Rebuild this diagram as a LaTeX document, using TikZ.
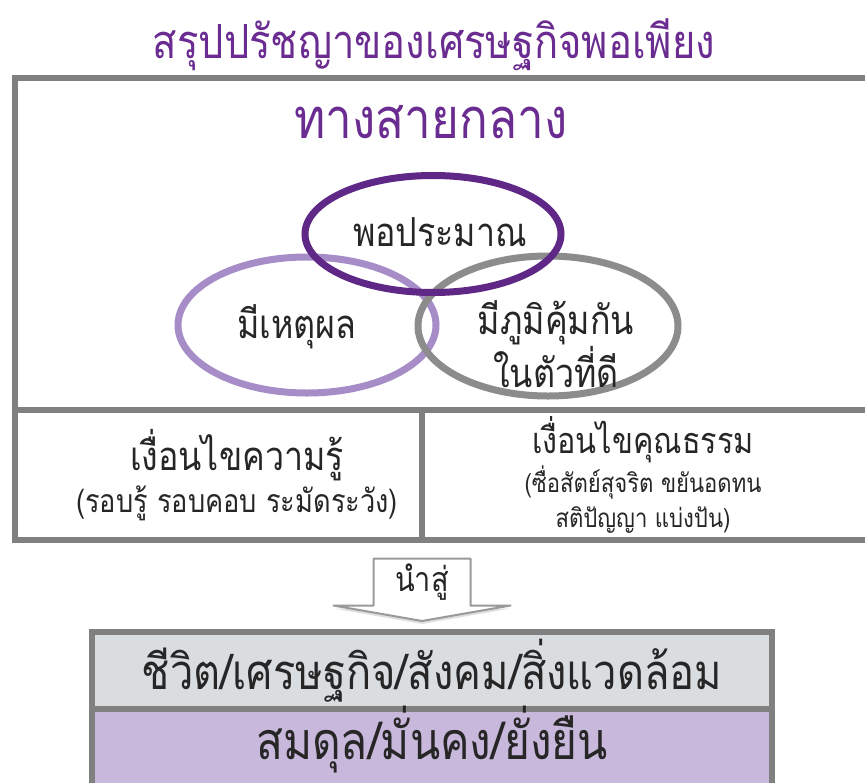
\documentclass[tikz,border=0pt]{standalone}
\usepackage{fontspec}
\newfontfamily\thaifont[Script=Thai,FakeStretch=0.85]{Loma}
\usepackage{tikz}
\usetikzlibrary{positioning, shapes, shadows, backgrounds}
\definecolor{headpurple}{RGB}{107,44,145}
\definecolor{ringpurple}{RGB}{96,40,134}
\definecolor{ringlilac}{RGB}{166,141,200}
\definecolor{ringgray}{RGB}{140,140,140}
\definecolor{framegray}{RGB}{128,128,128}
\definecolor{inkgray}{RGB}{38,38,38}
\definecolor{bandgray}{RGB}{218,221,224}
\definecolor{bandlilac}{RGB}{200,184,219}
\tikzstyle{headtext} = [text=headpurple, font=\thaifont\fontsize{47}{50}\selectfont]
\tikzstyle{ring} = [ellipse, line width=7pt, inner sep=0pt, outer sep=0pt]
\tikzstyle{ringtext} = [text=inkgray, align=center, font=\thaifont\fontsize{40}{40}\selectfont]
\tikzstyle{cell} = [rectangle, draw=framegray, line width=6pt, fill=white, inner sep=0pt, outer sep=0pt]
\tikzstyle{cellhead} = [text=inkgray, font=\thaifont\fontsize{40}{44}\selectfont]
\tikzstyle{cellnote} = [text=inkgray, align=center, font=\thaifont\fontsize{32}{35}\selectfont]
\tikzstyle{band} = [rectangle, draw=framegray, line width=6pt, inner sep=0pt, outer sep=0pt, minimum width=680pt, text=inkgray, font=\thaifont\fontsize{49}{52}\selectfont]
\tikzstyle{leadbox} = [rectangle, inner sep=0pt, outer sep=0pt, minimum width=97pt, minimum height=47pt, text=inkgray, font=\thaifont\fontsize{34}{38}\selectfont]
\tikzstyle{arrowline} = [draw=framegray!80, line width=2pt, fill=white, line join=round]
\tikzstyle{softshadow} = [drop shadow={opacity=0.25, shadow xshift=0pt, shadow yshift=-3pt}]

\begin{document}
\begin{tikzpicture}[x=1pt, y=-1pt, node distance=40pt]
        \useasboundingbox (0,0) rectangle (865,782);
        \node (title) [headtext] at (434,45) {สรุปปรัชญาของเศรษฐกิจพอเพียง};

        % frame with the middle way and the two conditions
        \node (upper) [cell, softshadow, minimum width=855pt, minimum height=332pt, anchor=north west] at (15,78) {};
        \node (knowcell) [cell, softshadow, minimum width=407pt, minimum height=130pt, anchor=north west] at (upper.south west) {};
        \node (moralcell) [cell, softshadow, minimum width=448pt, minimum height=130pt, anchor=north west] at (knowcell.north east) {};
        \node (middle) [headtext, font=\thaifont\fontsize{56}{60}\selectfont] at (431,122) {ทางสายกลาง};

        \node (reason) [ring, draw=ringlilac, minimum width=258pt, minimum height=136pt] at (307,325) {};
        \node (immunity) [ring, draw=ringgray, minimum width=260pt, minimum height=140pt] at (548,326) {};
        \node (moderate) [ring, draw=ringpurple, minimum width=256pt, minimum height=117pt] at (433,234) {};
        \node (moderatelabel) [ringtext] at (440,232) {พอประมาณ};
        \node (reasonlabel) [ringtext] at (297,327) {มีเหตุผล};
        \node (immunitylabel) [ringtext] at (556,344) {มีภูมิคุ้มกัน\\ในตัวที่ดี};

        \node (knowhead) [cellhead] at (237,455) {เงื่อนไขความรู้};
        \node (knownote) [cellnote, below of=knowhead, node distance=48pt] {(รอบรู้ รอบคอบ ระมัดระวัง)};
        \node (moralhead) [cellhead, font=\thaifont\fontsize{36}{40}\selectfont] at (643,440) {เงื่อนไขคุณธรรม};
        \node (moralnote) [cellnote, font=\thaifont\fontsize{26}{35}\selectfont, below of=moralhead, node distance=60pt] {(ซื่อสัตย์สุจริต ขยันอดทน\\สติปัญญา แบ่งปัน)};

        % leads to
        \node (leadsto) [leadbox] at (422,582) {นำสู่};
        \coordinate (tip) at (422,621);
        \begin{pgfonlayer}{background}
        \draw [arrowline, softshadow] (leadsto.north west) -- (leadsto.north east) -- (leadsto.south east) -- ([xshift=40pt]leadsto.south east) -- (tip) -- ([xshift=-40pt]leadsto.south west) -- (leadsto.south west) -- cycle;
        \end{pgfonlayer}

        \node (realm) [band, softshadow, fill=bandgray, minimum height=77pt, anchor=north] at (432,632) {ชีวิต/เศรษฐกิจ/สังคม/สิ่งแวดล้อม};
        \node (balance) [band, fill=bandlilac, minimum height=82pt, below=0pt of realm] {};
        \node (balancelabel) [band, draw=none, minimum width=0pt, font=\thaifont\fontsize{52}{56}\selectfont] at (432,740) {สมดุล/มั่นคง/ยั่งยืน};
\end{tikzpicture}
\end{document}
